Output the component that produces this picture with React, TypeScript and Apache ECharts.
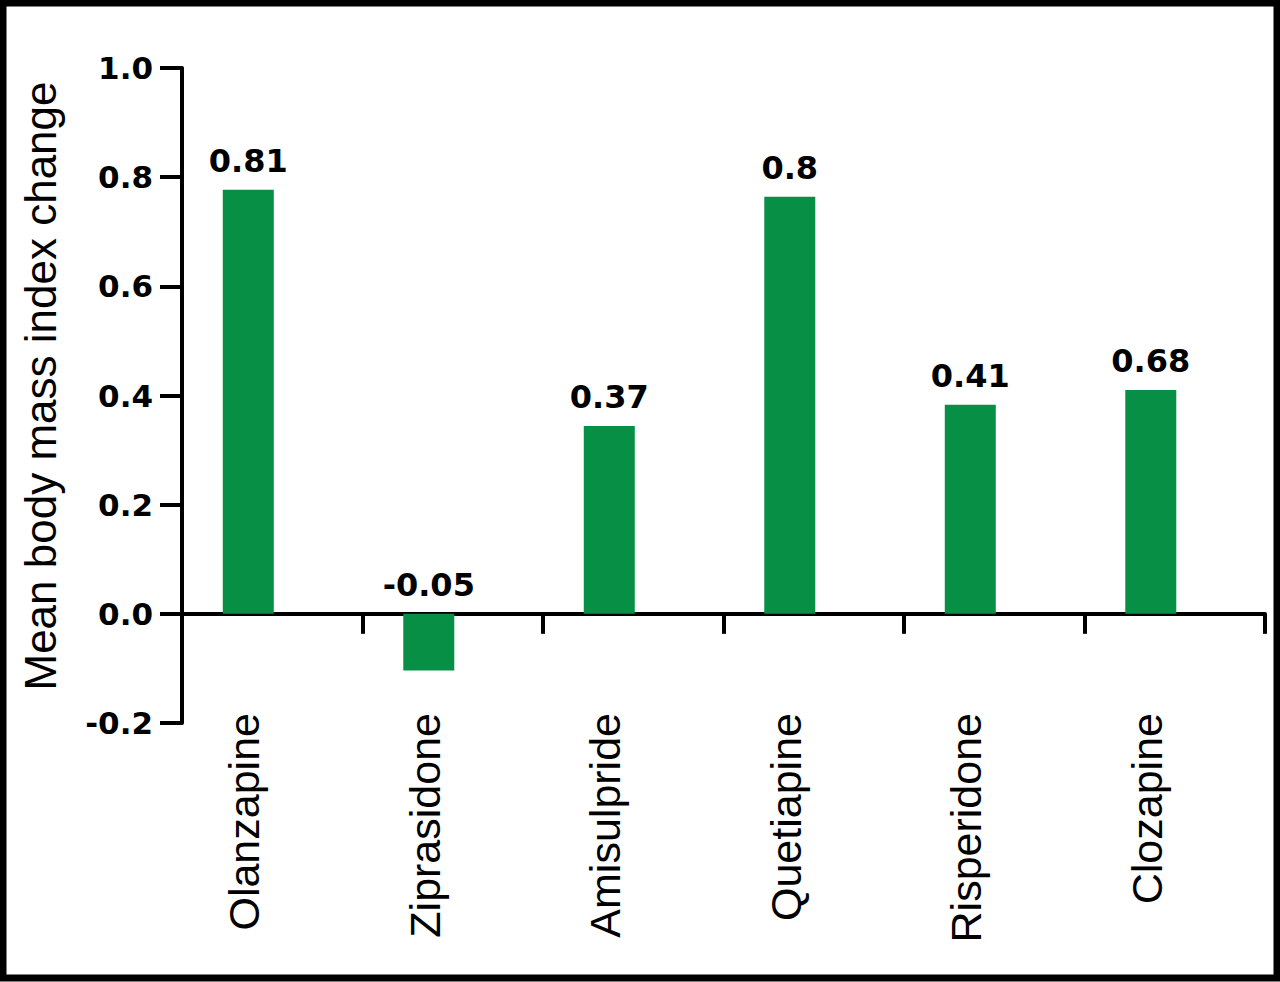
import React, { useEffect, useRef } from "react";
import * as echarts from "echarts";

const categories = ["Olanzapine", "Ziprasidone", "Amisulpride", "Quetiapine", "Risperidone", "Clozapine"];
const barValues = [0.777, -0.104, 0.344, 0.764, 0.383, 0.41];
const labelTexts = ["0.81", "-0.05", "0.37", "0.8", "0.41", "0.68"];
const spacerValues = [null, null, null, null, null, null];
const yMin = -0.2;
const yMax = 1.0;
const yStep = 0.2;
const yTitle = "Mean body mass index change";

export default function App() {
  const ref = useRef<HTMLDivElement>(null);
  useEffect(() => {
    if (!ref.current) return;
    const chart = echarts.init(ref.current, null, { renderer: "svg" });
    chart.setOption({
      animation: false,
      backgroundColor: "#ffffff",
      graphic: [
        {
          type: "rect",
          shape: { x: 3, y: 3, width: 1274, height: 975 },
          style: { fill: "none", stroke: "#000", lineWidth: 7 },
          z: 100,
        },
      ],
      grid: { left: 182, right: 15, top: 68, bottom: 259, containLabel: false, outerBoundsMode: "none" },
      xAxis: {
        type: "category",
        data: categories,
        axisLine: { onZero: true, lineStyle: { color: "#000", width: 4 } },
        axisTick: { show: true, length: 20, lineStyle: { color: "#000", width: 4 } },
        axisLabel: {
          rotate: 90,
          margin: -10,
          interval: 0,
          color: "#000",
          fontFamily: "Liberation Sans",
          fontSize: 43,
          lineHeight: 56,
          verticalAlign: "bottom",
        },
      },
      yAxis: {
        type: "value",
        min: yMin,
        max: yMax,
        interval: yStep,
        name: yTitle,
        nameLocation: "middle",
        nameGap: 120,
        nameRotate: 90,
        nameTextStyle: { color: "#000", fontFamily: "Liberation Sans", fontSize: 44, padding: [0, 0, 0, 19] },
        splitLine: { show: false },
        axisLine: { show: true, lineStyle: { color: "#000", width: 4 } },
        axisTick: { show: true, length: 22, lineStyle: { color: "#000", width: 4 } },
        axisLabel: {
          margin: 29,
          color: "#000",
          fontFamily: "DejaVu Sans",
          fontWeight: "bold",
          fontSize: 31,
          formatter: (v: number) => v.toFixed(1),
        },
      },
      series: [
        {
          type: "bar",
          data: barValues,
          barWidth: 51,
          barGap: "-6%",
          itemStyle: { color: "#068f45" },
          label: {
            show: true,
            position: "top",
            distance: 13,
            color: "#000",
            fontFamily: "DejaVu Sans",
            fontWeight: "bold",
            fontSize: 32,
            formatter: (p: any) => labelTexts[p.dataIndex],
          },
        },
        {
          type: "bar",
          data: spacerValues,
          barWidth: 51,
          barGap: "-6%",
          itemStyle: { color: "rgba(0,0,0,0)" },
          silent: true,
        },
      ],
    });
    return () => chart.dispose();
  }, []);
  return (
    <div
      ref={ref}
      style={{ position: "fixed", left: 0, top: 0, width: 1280, height: 982 }}
    />
  );
}
